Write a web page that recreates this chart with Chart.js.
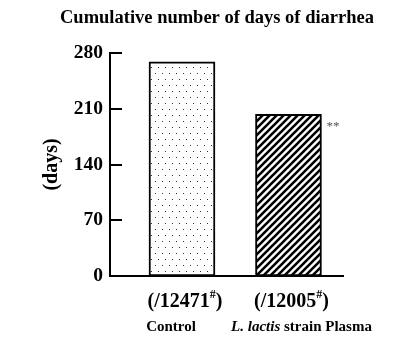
<!DOCTYPE html>
<html><head><meta charset="utf-8">
<script src="https://cdn.jsdelivr.net/npm/chart.js@4/dist/chart.umd.min.js"></script>
<style>html,body{margin:0;padding:0;background:#fff}#wrap{width:416px;height:346px}</style>
</head><body><div id="wrap"><canvas id="c" width="416" height="346"></canvas></div>
<script>
// ---- data ----
const titleText = "Cumulative number of days of diarrhea";
const yAxisTitle = "(days)";
const groups = ["Control", "L. lactis strain Plasma"];
const groupItalic = ["", "L. lactis"];
const groupRest = ["Control", " strain Plasma"];
const sampleCounts = ["12471", "12005"];
const values = [269, 203];
const significance = ["", "**"];
const yTicks = [0, 70, 140, 210, 280];

const SERIF = "'Liberation Serif', 'Times New Roman', serif";
const canvas = document.getElementById('c');
const ctx0 = canvas.getContext('2d');

function dotPattern() {
  const c = document.createElement('canvas'); c.width = 7; c.height = 12;
  const g = c.getContext('2d');
  g.fillStyle = '#fff'; g.fillRect(0, 0, 7, 12);
  g.fillStyle = '#333';
  g.fillRect(1, 1, 1, 1);
  g.fillRect(4, 7, 1, 1);
  return ctx0.createPattern(c, 'repeat');
}
function hatchPattern() {
  const s = 7;
  const c = document.createElement('canvas'); c.width = s; c.height = s;
  const g = c.getContext('2d');
  g.fillStyle = '#fff'; g.fillRect(0, 0, s, s);
  g.strokeStyle = '#000'; g.lineWidth = 2.6;
  g.beginPath();
  g.moveTo(-1, s + 1); g.lineTo(s + 1, -1);
  g.moveTo(-1, 1); g.lineTo(1, -1);
  g.moveTo(s - 1, s + 1); g.lineTo(s + 1, s - 1);
  g.stroke();
  return ctx0.createPattern(c, 'repeat');
}

function drawRich(ctx, segs, cx, cy) {
  let total = 0;
  segs.forEach(s => { ctx.font = s.f; s.w = ctx.measureText(s.t).width; total += s.w; });
  let x = cx - total / 2;
  ctx.textAlign = 'left'; ctx.textBaseline = 'middle';
  segs.forEach(s => { ctx.font = s.f; ctx.fillText(s.t, x, cy + (s.dy || 0)); x += s.w; });
}

const labelShift = [-11, 13];

const deco = {
  id: 'deco',
  afterDraw(chart) {
    const ctx = chart.ctx, ca = chart.chartArea, y = chart.scales.y;
    ctx.save();
    ctx.strokeStyle = '#000'; ctx.lineWidth = 2;
    y.ticks.forEach(t => {
      const py = Math.round(y.getPixelForValue(t.value));
      ctx.beginPath(); ctx.moveTo(ca.left, py); ctx.lineTo(ca.left + 12, py); ctx.stroke();
    });
    ctx.fillStyle = '#000';
    ctx.font = 'bold 18.5px ' + SERIF; ctx.textAlign = 'center'; ctx.textBaseline = 'middle';
    ctx.fillText(titleText, 217, 18);
    const meta = chart.getDatasetMeta(0);
    meta.data.forEach((bar, i) => {
      ctx.fillStyle = '#000';
      drawRich(ctx, [
        {t: '(/' + sampleCounts[i], f: 'bold 20px ' + SERIF},
        {t: '#', f: 'bold 12px ' + SERIF, dy: -7},
        {t: ')', f: 'bold 20px ' + SERIF}
      ], bar.x + 3, ca.bottom + 26);
      const segs = [];
      if (groupItalic[i]) segs.push({t: groupItalic[i], f: 'italic bold 15px ' + SERIF});
      segs.push({t: groupRest[i], f: 'bold 15px ' + SERIF});
      drawRich(ctx, segs, bar.x + labelShift[i], ca.bottom + 51);
      if (significance[i]) {
        ctx.font = '13px ' + SERIF; ctx.fillStyle = '#555';
        ctx.textAlign = 'left'; ctx.textBaseline = 'middle';
        ctx.fillText(significance[i], bar.x + bar.width / 2 + 5, bar.y + 12);
      }
    });
    ctx.restore();
  }
};

new Chart(canvas, {
  type: 'bar',
  data: {
    datasets: [{
      label: 'days',
      data: values.map((v, i) => ({x: i, y: v})),
      backgroundColor: [dotPattern(), hatchPattern()],
      borderColor: '#000',
      borderWidth: 2,
      borderSkipped: false,
      barThickness: 66
    }]
  },
  options: {
    responsive: false,
    animation: false,
    layout: {padding: {left: 0, top: 53, right: 73, bottom: 0}},
    plugins: {legend: {display: false}, tooltip: {enabled: false}, title: {display: false}},
    scales: {
      x: {
        type: 'linear', min: -0.676, max: 1.512, offset: false,
        grid: {display: false, drawTicks: false},
        ticks: {display: false},
        border: {display: true, color: '#000', width: 2},
        afterFit(s) { s.height = 70; }
      },
      y: {
        min: 0, max: 280,
        afterBuildTicks(s) { s.ticks = yTicks.map(v => ({value: v})); },
        grid: {display: false, drawTicks: false},
        border: {display: true, color: '#000', width: 2},
        ticks: {color: '#000', padding: 7, font: {family: SERIF, size: 19.5, weight: 'bold'}},
        title: {display: true, text: yAxisTitle, color: '#000', padding: {top: 40, bottom: 0},
                font: {family: SERIF, size: 20, weight: 'bold'}},
        afterFit(s) { s.width = 110; }
      }
    }
  },
  plugins: [deco]
});
</script></body></html>
